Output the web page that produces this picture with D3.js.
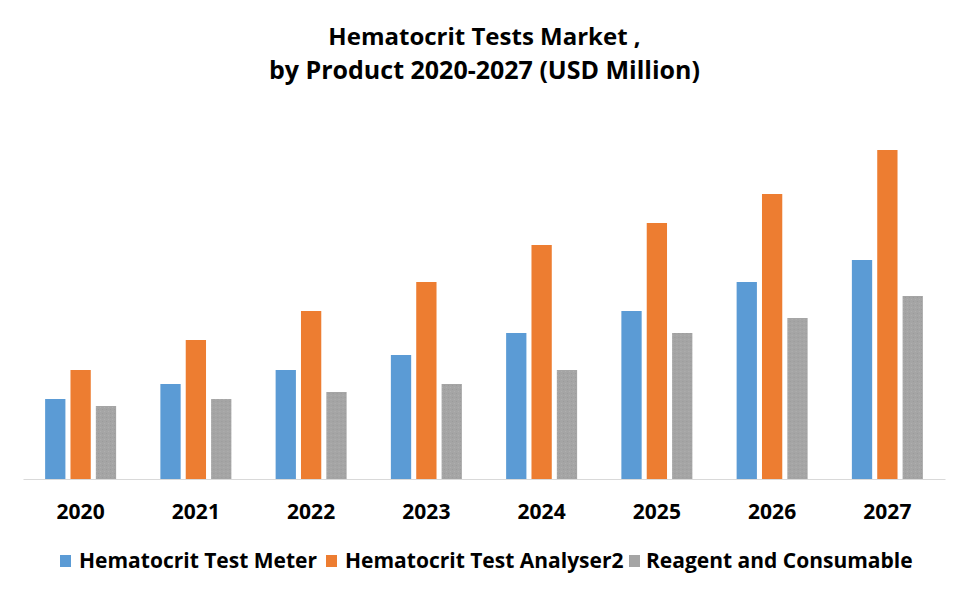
<!DOCTYPE html>
<html>
<head>
<meta charset="utf-8">
<script src="https://cdn.jsdelivr.net/npm/d3@7"></script>
<style>
  html, body { margin: 0; padding: 0; background: #fff; }
  svg { display: block; }
  text { font-family: "Open Sans", Lato, sans-serif; }
</style>
</head>
<body>
<svg id="chart" width="969" height="595"></svg>
<script>
const years = ["2020","2021","2022","2023","2024","2025","2026","2027"];
const seriesNames = ["Hematocrit Test Meter","Hematocrit Test Analyser2","Reagent and Consumable"];
const meter    = [80, 95, 109, 124, 146, 168, 197, 219];
const analyser = [109, 139, 168, 197, 234, 256, 285, 329];
const reagent  = [73, 80, 87, 95, 109, 146, 161, 183];
const colors = ["#5b9bd5", "#ed7d31", "#a5a5a5"];
const titleLines = ["Hematocrit Tests Market ,", "by Product 2020-2027 (USD Million)"];

const seriesValues = [meter, analyser, reagent];
const svg = d3.select("#chart");

const baseY = 479;
const y = d3.scaleLinear().domain([0, 350]).range([baseY, baseY - 350]);
const x0 = d3.scaleBand().domain(years).range([23, 945]).padding(0);
const groupW = 71;
const x1 = d3.scaleBand().domain(seriesNames).range([0, groupW]).paddingInner(0.2);

// pattern for gray bars
const defs = svg.append("defs");
const pat = defs.append("pattern").attr("id", "dots").attr("width", 4).attr("height", 4)
  .attr("patternUnits", "userSpaceOnUse");
pat.append("rect").attr("width", 4).attr("height", 4).attr("fill", "#a5a5a5");
pat.append("rect").attr("x", 1).attr("y", 1).attr("width", 1).attr("height", 1).attr("fill", "#9a9a9a");
pat.append("rect").attr("x", 3).attr("y", 3).attr("width", 1).attr("height", 1).attr("fill", "#b0b0b0");

// title
svg.selectAll("text.title").data(titleLines).enter().append("text")
  .attr("class", "title")
  .attr("x", 484.5)
  .attr("y", (d, i) => 45 + i * 34)
  .attr("text-anchor", "middle")
  .attr("font-size", (d, i) => i === 0 ? 24 : 25)
  .attr("font-weight", "bold")
  .attr("fill", "#000")
  .text(d => d);

// bars
const groups = svg.selectAll("g.year").data(years).enter().append("g")
  .attr("transform", d => `translate(${x0(d) + (x0.bandwidth() - groupW) / 2},0)`);

groups.selectAll("rect").data((d, i) => seriesNames.map((s, k) => ({ s, k, v: seriesValues[k][i] })))
  .enter().append("rect")
  .attr("x", d => x1(d.s))
  .attr("y", d => y(d.v))
  .attr("width", x1.bandwidth())
  .attr("height", d => baseY - y(d.v))
  .attr("fill", d => d.k === 2 ? "url(#dots)" : colors[d.k]);

// axis line
const xAxis = d3.axisBottom(x0).tickSize(0).tickPadding(0);
const ax = svg.append("g").attr("transform", `translate(0,${baseY})`).call(xAxis);
ax.select(".domain").attr("stroke", "#d9d9d9").attr("stroke-width", 1);
ax.selectAll(".tick text")
  .attr("dy", null)
  .attr("y", 40)
  .attr("font-family", "'Open Sans', sans-serif")
  .attr("font-size", 21)
  .attr("font-weight", "bold")
  .attr("fill", "#000");

// legend
const legendX = [60, 326, 629];
const lg = svg.selectAll("g.legend").data(seriesNames).enter().append("g")
  .attr("transform", (d, i) => `translate(${legendX[i]},568)`);
lg.append("rect").attr("x", 0).attr("y", -13).attr("width", 11).attr("height", 12)
  .attr("fill", (d, i) => colors[i]);
lg.append("text").attr("x", (d, i) => i === 2 ? 17 : 19).attr("y", 0)
  .attr("font-size", 21)
  .attr("font-weight", "bold")
  .attr("fill", "#000")
  .text(d => d);
</script>
</body>
</html>
